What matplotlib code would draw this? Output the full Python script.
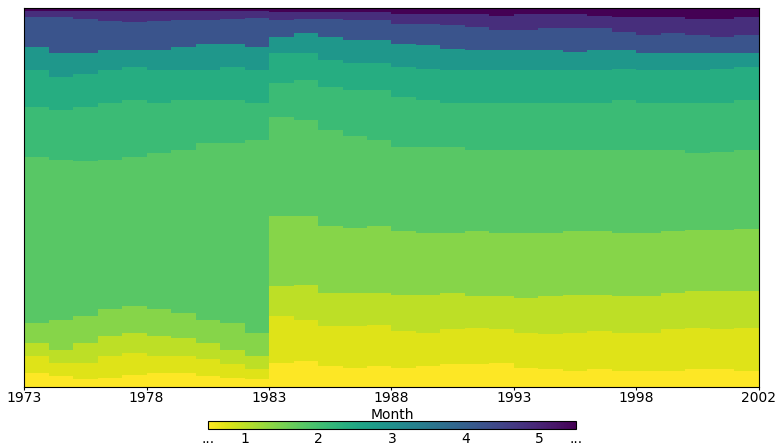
import numpy as np
import matplotlib
matplotlib.use("Agg")
import matplotlib.pyplot as plt
from matplotlib.colors import Normalize

# =========================
# DATA (cumulative share in %, one value per year)
# =========================
years = np.arange(1973, 2003)

le_b1 = [3.5, 2.8, 1.9, 2.4, 3.2, 3.7, 3.7, 2.8, 2.4, 1.9,
         6.3, 6.8, 5.4, 5.0, 5.4,
         5.0, 5.4, 5.9, 5.9, 6.3, 5.0, 4.6, 4.1, 4.6, 4.1, 4.1, 4.1, 4.6, 4.6, 4.1]
le_b2 = [8.1, 6.3, 6.3, 8.1, 8.9, 8.1, 8.1, 7.2, 5.9, 4.6,
         18.6, 17.7, 15.9, 15.9, 16.4,
         14.6, 14.2, 15.1, 15.5, 15.1, 14.2, 13.8, 14.2, 14.6, 14.2, 14.2, 15.1, 15.5, 15.1, 15.5]
le_b3 = [11.5, 9.8, 11.6, 13.3, 14.2, 13.3, 12.9, 11.6, 9.8, 8.1,
         26.5, 26.9, 24.7, 24.7, 24.7,
         24.3, 24.3, 24.7, 23.9, 23.9, 23.4, 23.9, 24.3, 24.3, 23.9, 23.9, 24.7, 25.2, 25.2, 25.2]
le_b4 = [16.8, 17.7, 18.6, 20.4, 21.2, 20.4, 19.5, 17.7, 16.8, 14.2,
         44.9, 44.9, 42.3, 41.8, 42.3,
         41.0, 40.5, 40.5, 41.0, 40.5, 40.5, 40.5, 41.0, 41.0, 40.5, 40.5, 41.0, 41.4, 41.4, 41.6]
le_b5 = [60.7, 59.8, 59.4, 59.8, 60.7, 61.6, 62.5, 64.2, 64.2, 65.1,
         71.2, 70.4, 67.7, 66.0, 65.1,
         63.3, 63.3, 63.3, 62.5, 62.5, 62.5, 62.5, 62.5, 62.5, 62.5, 62.5, 62.5, 61.6, 62.0, 62.5]
le_b6 = [73.9, 73.0, 73.9, 74.7, 75.6, 74.7, 75.6, 75.6, 75.6, 74.7,
         80.0, 80.9, 79.1, 78.2, 78.2,
         76.5, 75.6, 74.7, 74.7, 74.7, 74.7, 74.7, 74.7, 74.7, 75.6, 74.7, 74.7, 74.7, 74.7, 75.6]
le_b7 = [83.5, 81.8, 82.6, 83.5, 84.4, 83.5, 83.5, 83.5, 84.4, 83.5,
         87.9, 87.9, 86.1, 85.3, 85.3,
         84.4, 83.9, 83.5, 83.5, 83.5, 83.5, 83.5, 83.5, 83.5, 83.9, 83.5, 83.5, 83.5, 83.9, 84.2]
le_b8 = [89.6, 87.9, 87.9, 88.8, 88.8, 88.8, 89.6, 90.5, 90.5, 89.6,
         92.3, 93.2, 92.3, 91.4, 91.4,
         90.5, 90.1, 89.2, 88.8, 88.8, 88.8, 88.8, 88.3, 88.8, 88.8, 87.9, 87.9, 87.9, 87.9, 87.9]
le_b9 = [97.6, 97.4, 97.0, 96.5, 96.3, 96.5, 96.8, 96.8, 97.0, 97.2,
         96.7, 97.1, 97.1, 96.7, 96.7,
         95.8, 95.8, 95.4, 94.9, 94.0, 94.0, 94.5, 94.5, 94.5, 93.6, 92.7, 93.2, 92.7, 92.3, 92.7]
le_b10 = [99.0, 99.0, 99.0, 99.0, 99.0, 99.0, 99.0, 99.0, 99.0, 99.0,
          98.9, 98.9, 98.9, 98.9, 98.9,
          98.4, 98.4, 98.4, 98.4, 97.9, 98.4, 98.4, 98.4, 97.9, 97.5, 97.5, 97.5, 97.1, 97.1, 97.5]
le_top = [100.0] * 30

# month value of each band (colour position on the colorbar)
layer_month = [0.5, 0.75, 1.0, 1.4, 1.8, 2.1, 2.4, 2.85, 4.2, 4.85, 5.5]

cbar_ticks = [0.5, 1, 2, 3, 4, 5, 5.5]
cbar_labels = ["...", "1", "2", "3", "4", "5", "..."]
xtick_years = [1973, 1978, 1983, 1988, 1993, 1998, 2003]
xtick_labels = ["1973", "1978", "1983", "1988", "1993", "1998", "2002"]

# =========================
# PLOT
# =========================
cmap = plt.get_cmap("viridis_r")
norm = Normalize(vmin=0.5, vmax=5.5)

fig = plt.figure(figsize=(7.76, 4.46), dpi=100)
ax = fig.add_axes([0.031, 0.133, 0.947, 0.850])

bounds = [le_b1, le_b2, le_b3, le_b4, le_b5, le_b6, le_b7, le_b8, le_b9, le_b10, le_top]
edges = np.append(years, years[-1] + 1)
lower = np.zeros(len(years))
for upper, m in zip(bounds, layer_month):
    upper = np.asarray(upper)
    c = cmap(norm(m))
    ax.stairs(upper, edges, baseline=lower, fill=True, color=c, linewidth=0)
    lower = upper

ax.set_xlim(1973, 2003)
ax.set_ylim(0, 100)
ax.set_yticks([])
ax.set_xticks(xtick_years)
ax.set_xticklabels(xtick_labels, fontsize=10)
ax.tick_params(axis="x", length=2, pad=1)

# colorbar
cax = fig.add_axes([0.268, 0.037, 0.474, 0.0185])
sm = plt.cm.ScalarMappable(norm=norm, cmap=cmap)
cb = fig.colorbar(sm, cax=cax, orientation="horizontal")
cb.set_ticks(cbar_ticks)
cb.set_ticklabels(cbar_labels)
cb.ax.tick_params(labelsize=10, length=0, pad=1.5)
cb.ax.xaxis.set_label_position("top")
cb.set_label("Month", fontsize=10, labelpad=1.5)

fig.savefig("out.png", dpi=100)
